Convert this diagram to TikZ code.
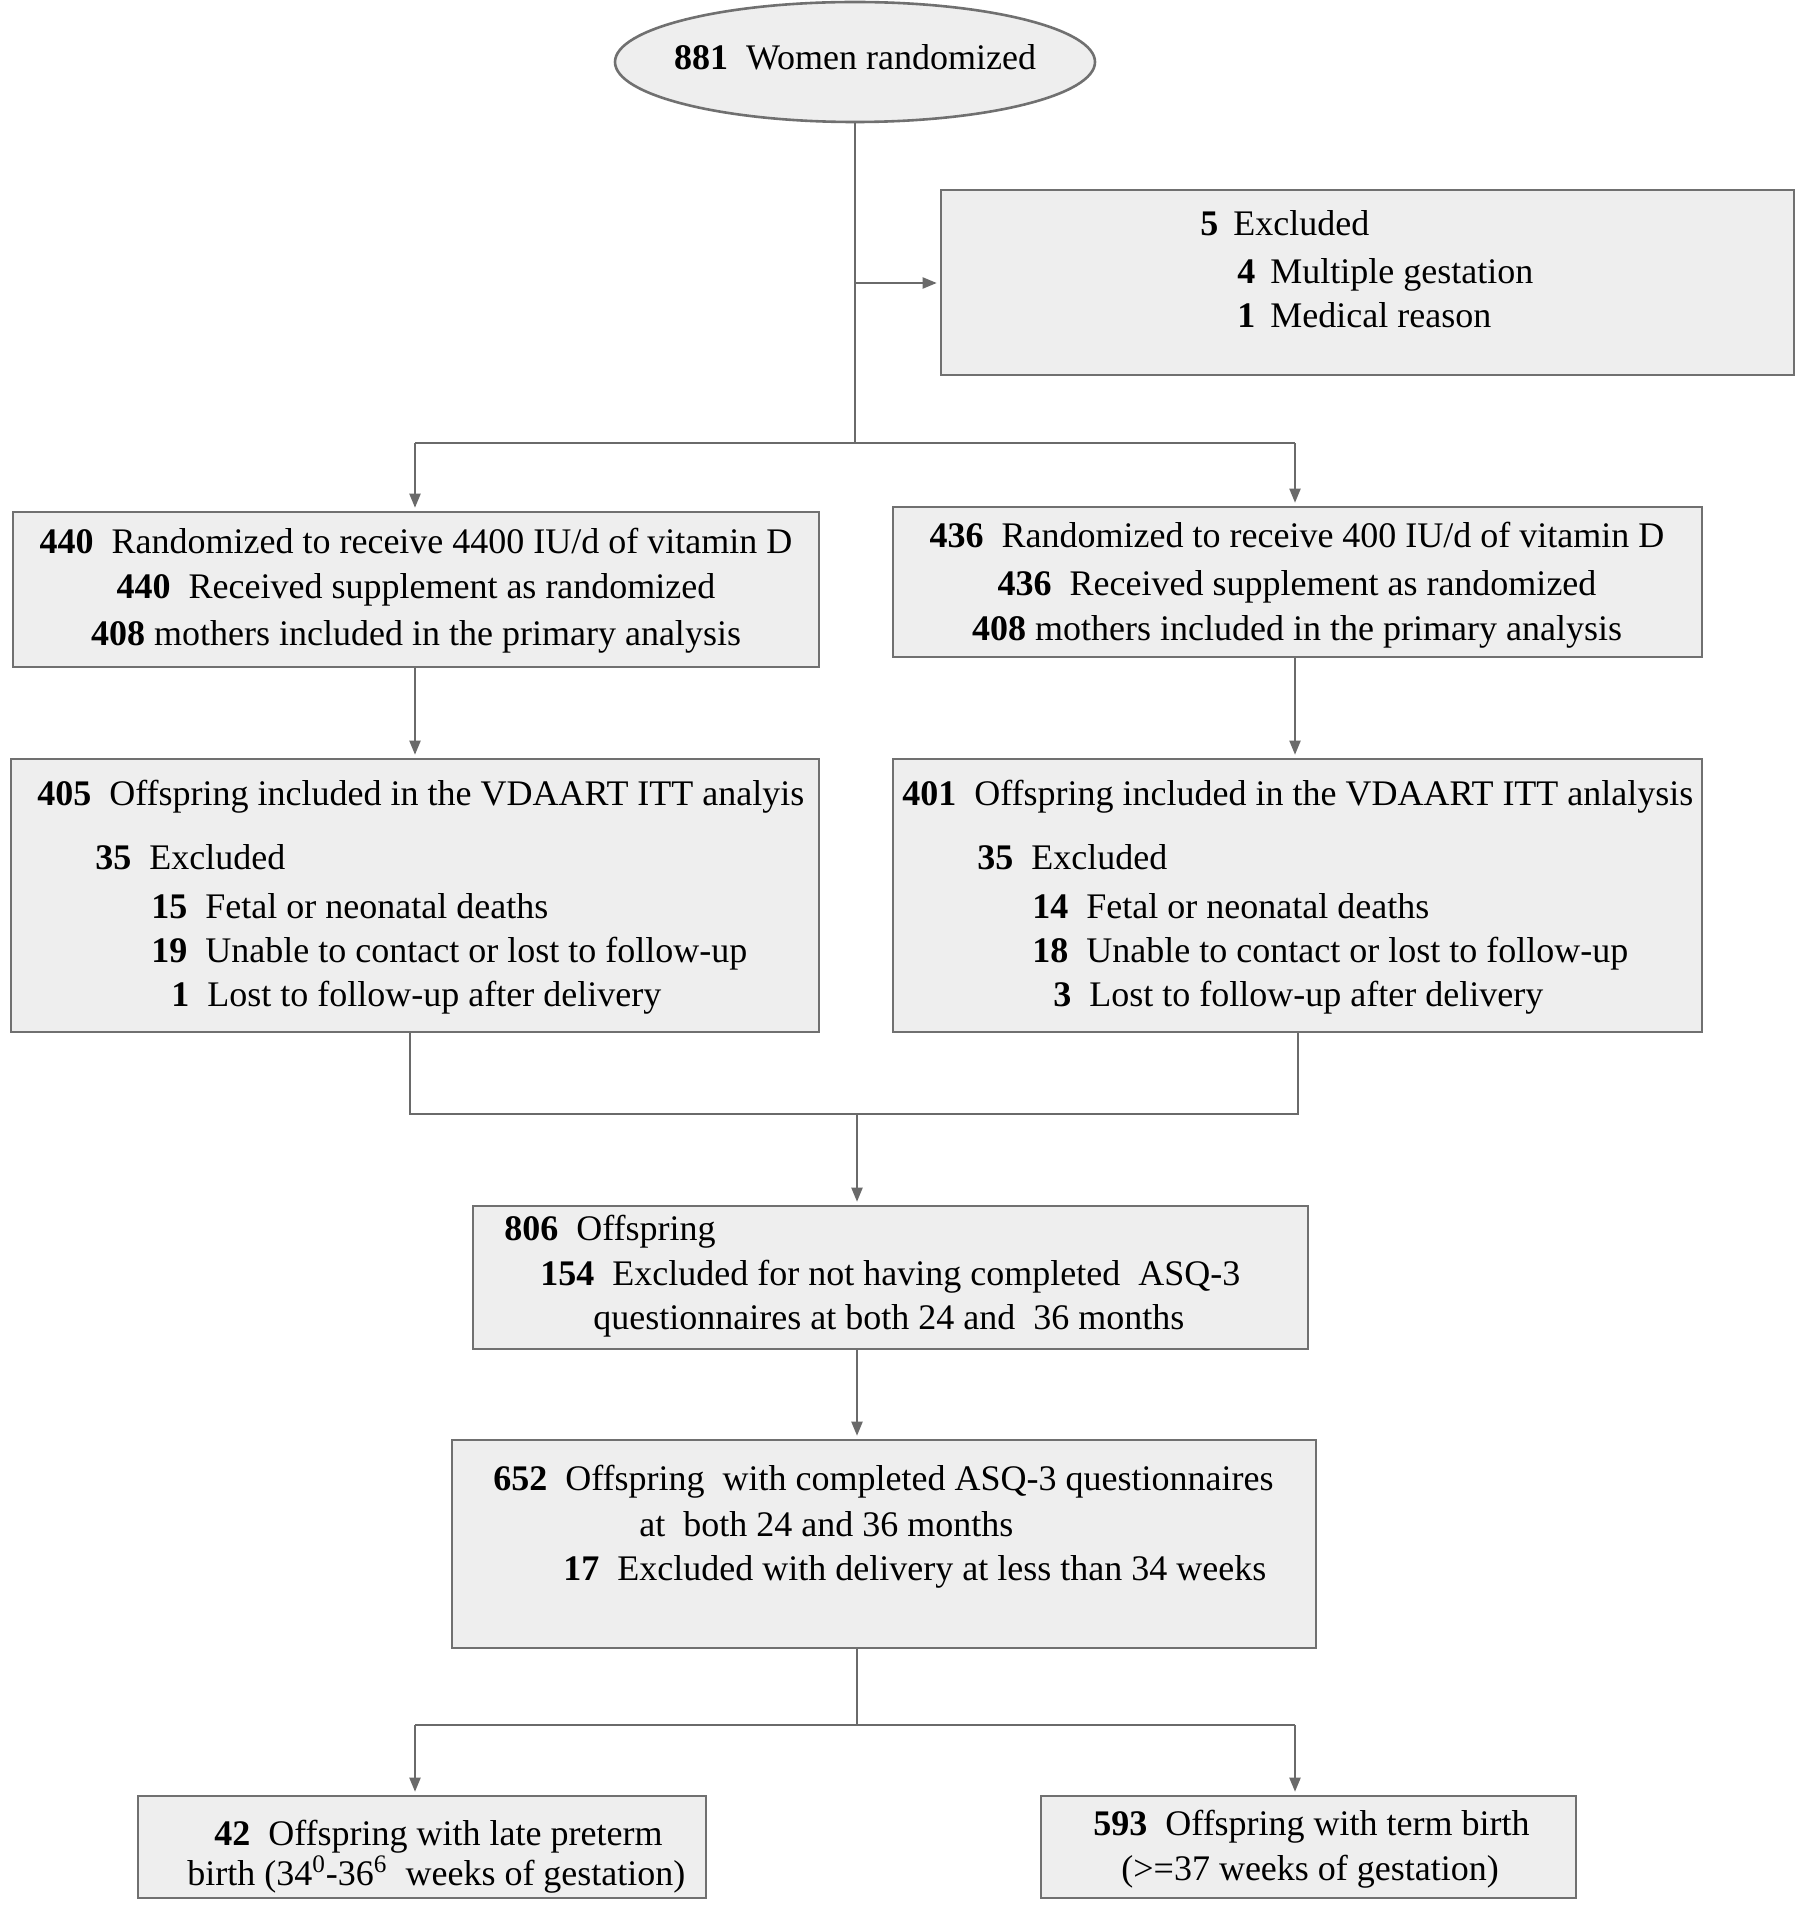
\documentclass[tikz,border=0pt]{standalone}
\usepackage{fontspec}
\setmainfont{Liberation Serif}
\usetikzlibrary{arrows.meta,shapes.geometric}
\definecolor{boxfill}{HTML}{EEEEEE}
\definecolor{boxline}{HTML}{707070}
\definecolor{conn}{HTML}{6A6A6A}
\begin{document}
\begin{tikzpicture}[x=0.5pt,y=-0.5pt,
  box/.style={draw=boxline,fill=boxfill,line width=1.3pt,inner sep=0pt,rectangle},
  oval/.style={draw=boxline,fill=boxfill,line width=1.3pt,inner sep=0pt,ellipse},
  txt/.style={anchor=base west,inner sep=0pt,font=\fontsize{18}{22}\selectfont},
  ctxt/.style={anchor=base,inner sep=0pt,font=\fontsize{18}{22}\selectfont},
  line/.style={draw=conn,line width=1pt},
  arr/.style={draw=conn,line width=1pt,-{Triangle[length=7pt,width=5.5pt]},shorten >=1.5pt}]
\useasboundingbox[fill=white] (0,0) rectangle (1801,1920);
% boxes
\node[oval,minimum width=240pt,minimum height=60pt] (top) at (855,62) {};
\node[box,minimum width=426.5pt,minimum height=92.5pt] (excl) at (1367.5,282.5) {};
\node[box,minimum width=403pt,minimum height=77.5pt] (l1) at (416,589.5) {};
\node[box,minimum width=404.5pt,minimum height=75pt] (r1) at (1297.5,582) {};
\node[box,minimum width=404pt,minimum height=136.5pt] (l2) at (415,895.5) {};
\node[box,minimum width=404.5pt,minimum height=136.5pt] (r2) at (1297.5,895.5) {};
\node[box,minimum width=417.5pt,minimum height=71.5pt] (b806) at (890.5,1277.5) {};
\node[box,minimum width=432pt,minimum height=104pt] (b652) at (884,1544) {};
\node[box,minimum width=284pt,minimum height=51pt] (b42) at (422,1847) {};
\node[box,minimum width=267.5pt,minimum height=51pt] (b593) at (1308.5,1847) {};
% texts
\node[ctxt] (ttop) at (855,70) {\textbf{881}\enspace Women randomized};
\node[txt] (te1) at (1200,236) {\textbf{5}\, Excluded};
\node[txt] (te2) at (1237,284) {\textbf{4}\, Multiple gestation};
\node[txt] (te3) at (1237,328) {\textbf{1}\, Medical reason};
\node[ctxt] (tl11) at (416,553) {\textbf{440}\enspace Randomized to receive 4400 IU/d of vitamin D};
\node[ctxt] (tl12) at (416,598) {\textbf{440}\enspace Received supplement as randomized};
\node[ctxt] (tl13) at (416,645) {\textbf{408} mothers included in the primary analysis};
\node[ctxt] (tr11) at (1297,547) {\textbf{436}\enspace Randomized to receive 400 IU/d of vitamin D};
\node[ctxt] (tr12) at (1297,595) {\textbf{436}\enspace Received supplement as randomized};
\node[ctxt] (tr13) at (1297,640) {\textbf{408} mothers included in the primary analysis};
\node[txt] (tl21) at (37,805) {\textbf{405}\enspace Offspring included in the VDAART ITT analyis};
\node[txt] (tl22) at (95,869) {\textbf{35}\enspace Excluded};
\node[txt] (tl23) at (151,918) {\textbf{15}\enspace Fetal or neonatal deaths};
\node[txt] (tl24) at (151,962) {\textbf{19}\enspace Unable to contact or lost to follow-up};
\node[txt] (tl25) at (171,1006) {\textbf{1}\enspace Lost to follow-up after delivery};
\node[txt] (tr21) at (902,805) {\textbf{401}\enspace Offspring included in the VDAART ITT anlalysis};
\node[txt] (tr22) at (977,869) {\textbf{35}\enspace Excluded};
\node[txt] (tr23) at (1032,918) {\textbf{14}\enspace Fetal or neonatal deaths};
\node[txt] (tr24) at (1032,962) {\textbf{18}\enspace Unable to contact or lost to follow-up};
\node[txt] (tr25) at (1053,1006) {\textbf{3}\enspace Lost to follow-up after delivery};
\node[txt] (t8061) at (504,1240) {\textbf{806}\enspace Offspring};
\node[txt] (t8062) at (540,1285) {\textbf{154}\enspace Excluded for not having completed\enspace ASQ-3};
\node[txt] (t8063) at (593,1329) {questionnaires at both 24 and\enspace 36 months};
\node[txt] (t6521) at (493,1490) {\textbf{652}\enspace Offspring\enspace with completed ASQ-3 questionnaires};
\node[txt] (t6522) at (639,1536) {at\enspace both 24 and 36 months};
\node[txt] (t6523) at (563,1580) {\textbf{17}\enspace Excluded with delivery at less than 34 weeks};
\node[txt] (t421) at (214,1845) {\textbf{42}\enspace Offspring with late preterm};
\node[txt] (t422) at (187,1885) {birth (34\textsuperscript{0}-36\textsuperscript{6}\enspace weeks of gestation)};
\node[txt] (t5931) at (1093,1835) {\textbf{593}\enspace Offspring with term birth};
\node[txt] (t5932) at (1121,1880) {(>=37 weeks of gestation)};
% connectors
\coordinate (split1) at (855,443);
\coordinate (sl1) at (415,443);
\coordinate (sr1) at (1295,443);
\coordinate (exbr) at (855,283);
\draw[line] (top.south) -- (split1);
\draw[arr] (exbr) -- (exbr -| excl.west);
\draw[line] (sl1) -- (sr1);
\draw[arr] (sl1) -- (sl1 |- l1.north);
\draw[arr] (sr1) -- (sr1 |- r1.north);
\draw[arr] (sl1 |- l1.south) -- (sl1 |- l2.north);
\draw[arr] (sr1 |- r1.south) -- (sr1 |- r2.north);
\coordinate (ml) at (410,1114);
\coordinate (mr) at (1298,1114);
\coordinate (mm) at (857,1114);
\draw[line] (ml |- l2.south) -- (ml) -- (mr) -- (mr |- r2.south);
\draw[arr] (mm) -- (mm |- b806.north);
\draw[arr] (mm |- b806.south) -- (mm |- b652.north);
\coordinate (s2) at (857,1725);
\coordinate (s2l) at (415,1725);
\coordinate (s2r) at (1295,1725);
\draw[line] (mm |- b652.south) -- (s2);
\draw[line] (s2l) -- (s2r);
\draw[arr] (s2l) -- (s2l |- b42.north);
\draw[arr] (s2r) -- (s2r |- b593.north);
\end{tikzpicture}
\end{document}
